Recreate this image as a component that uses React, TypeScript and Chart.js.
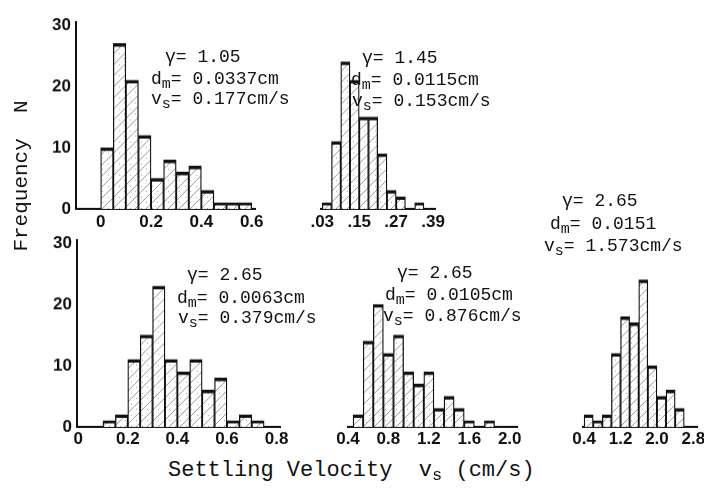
import React, { useEffect, useRef } from "react";
import { Chart, registerables } from "chart.js";
Chart.register(...registerables);

// ---------- data ----------
// Panel 1 (γ = 1.05): bins of 0.05 cm/s, centres
const p1Bins = [0.025, 0.075, 0.125, 0.175, 0.225, 0.275, 0.325, 0.375, 0.425, 0.475, 0.525, 0.575];
const p1Counts = [10, 27, 21, 12, 5, 8, 6, 7, 3, 1, 1, 1];
const p1Ticks = [0, 0.2, 0.4, 0.6];
const p1TickLabels = ["0", "0.2", "0.4", "0.6"];
const p1Notes = ["1.05", "0.0337cm", "0.177cm/s"];

// Panel 2 (γ = 1.45): bins of 0.03 cm/s
const p2Bins = [0.045, 0.075, 0.105, 0.135, 0.165, 0.195, 0.225, 0.255, 0.285, 0.315, 0.345];
const p2Counts = [1, 11, 24, 21, 15, 15, 9, 3, 2, 0, 1];
const p2Ticks = [0.03, 0.15, 0.27, 0.39];
const p2TickLabels = [".03", ".15", ".27", ".39"];
const p2Notes = ["1.45", "0.0115cm", "0.153cm/s"];

// Panel 3 (γ = 2.65, dm 0.0063): bins of 0.05 cm/s
const p3Bins = [0.125, 0.175, 0.225, 0.275, 0.325, 0.375, 0.425, 0.475, 0.525, 0.575, 0.625, 0.675, 0.725];
const p3Counts = [1, 2, 11, 15, 23, 11, 9, 11, 6, 8, 1, 2, 1];
const p3Ticks = [0, 0.2, 0.4, 0.6, 0.8];
const p3TickLabels = ["0", "0.2", "0.4", "0.6", "0.8"];
const p3Notes = ["2.65", "0.0063cm", "0.379cm/s"];

// Panel 4 (γ = 2.65, dm 0.0105): bins of 0.1 cm/s
const p4Bins = [0.5, 0.6, 0.7, 0.8, 0.9, 1.0, 1.1, 1.2, 1.3, 1.4, 1.5, 1.6, 1.7, 1.8];
const p4Counts = [2, 14, 20, 12, 15, 9, 7, 9, 3, 5, 3, 1, 0, 1];
const p4Ticks = [0.4, 0.8, 1.2, 1.6, 2.0];
const p4TickLabels = ["0.4", "0.8", "1.2", "1.6", "2.0"];
const p4Notes = ["2.65", "0.0105cm", "0.876cm/s"];

// Panel 5 (γ = 2.65, dm 0.0151): bins of 0.2 cm/s
const p5Bins = [0.5, 0.7, 0.9, 1.1, 1.3, 1.5, 1.7, 1.9, 2.1, 2.3, 2.5];
const p5Counts = [2, 1, 2, 12, 18, 17, 24, 10, 5, 6, 3];
const p5Ticks = [0.4, 1.2, 2.0, 2.8];
const p5TickLabels = ["0.4", "1.2", "2.0", "2.8"];
const p5Notes = ["2.65", "0.0151", "1.573cm/s"];

const yTicks = [0, 10, 20, 30];
const yTickLabels = ["0", "10", "20", "30"];

// ---------- layout ----------
type Spec = {
  left: number; right: number; top: number; bottom: number;
  xMin: number; xMax: number; showY: boolean;
  bins: number[]; counts: number[]; ticks: number[]; labels: string[];
  tickPad: number;
};

const Y_MAX = 30.5;
const topRow = { top: 209 - Y_MAX * 6.12, bottom: 209 };
const botRow = { top: 427 - Y_MAX * 6.12, bottom: 427 };

const specs: Spec[] = [
  { left: 76, right: 255, ...topRow, xMin: -0.098, xMax: 0.613, showY: true,
    bins: p1Bins, counts: p1Counts, ticks: p1Ticks, labels: p1TickLabels, tickPad: 3 },
  { left: 281, right: 435, ...topRow, xMin: 0.0259, xMax: 0.396, showY: false,
    bins: p2Bins, counts: p2Counts, ticks: p2Ticks, labels: p2TickLabels, tickPad: 3 },
  { left: 77, right: 280, ...botRow, xMin: -0.0048, xMax: 0.814, showY: true,
    bins: p3Bins, counts: p3Counts, ticks: p3Ticks, labels: p3TickLabels, tickPad: 2 },
  { left: 308, right: 517, ...botRow, xMin: 0.4, xMax: 2.072, showY: false,
    bins: p4Bins, counts: p4Counts, ticks: p4Ticks, labels: p4TickLabels, tickPad: 2 },
  { left: 543, right: 697, ...botRow, xMin: 0.3756, xMax: 2.88, showY: false,
    bins: p5Bins, counts: p5Counts, ticks: p5Ticks, labels: p5TickLabels, tickPad: 2 },
];

const PAD_L = 18, PAD_R = 18, PAD_T = 16, X_H = 28, Y_W = 40;
const TICK_FONT = { family: '"Liberation Sans", Arial, sans-serif', size: 17, weight: "bold" as const };
const MONO = '"Liberation Mono", "Courier New", monospace';
const INK = "#111";

function makeHatch(): CanvasPattern | string {
  const s = 11;
  const c = document.createElement("canvas");
  c.width = s; c.height = s;
  const g = c.getContext("2d");
  if (!g) return "#fff";
  g.fillStyle = "#fff";
  g.fillRect(0, 0, s, s);
  g.strokeStyle = "rgba(0,0,0,0.4)";
  g.lineWidth = 1;
  g.beginPath();
  g.moveTo(0, s); g.lineTo(s, 0);
  g.moveTo(-1, 1); g.lineTo(1, -1);
  g.moveTo(s - 1, s + 1); g.lineTo(s + 1, s - 1);
  g.stroke();
  g.fillStyle = "rgba(0,0,0,0.35)";
  g.fillRect(2, 3, 1, 1);
  g.fillRect(7, 8, 1, 1);
  return g.createPattern(c, "repeat") || "#fff";
}

function Panel({ spec }: { spec: Spec }) {
  const ref = useRef<HTMLCanvasElement>(null);
  const yw = spec.showY ? Y_W : 0;
  const w = spec.right - spec.left + PAD_L + PAD_R + yw;
  const h = spec.bottom - spec.top + PAD_T + X_H;
  useEffect(() => {
    if (!ref.current) return;
    const hatch = makeHatch();
    const chart = new Chart(ref.current, {
      type: "bar",
      data: {
        datasets: [
          {
            data: spec.bins.map((b, i) => ({ x: b, y: spec.counts[i] > 0 ? spec.counts[i] : null })) as any,
            backgroundColor: hatch as any,
            borderColor: INK,
            borderWidth: { top: 3.5, left: 1.3, right: 1.3, bottom: 0 },
            borderSkipped: false,
            categoryPercentage: 1,
            barPercentage: 1,
          },
        ],
      },
      options: {
        animation: false,
        responsive: false,
        maintainAspectRatio: false,
        layout: { padding: { left: PAD_L, right: PAD_R, top: PAD_T, bottom: 0 } },
        plugins: { legend: { display: false }, tooltip: { enabled: false } },
        scales: {
          x: {
            type: "linear",
            min: spec.xMin,
            max: spec.xMax,
            offset: false,
            grid: { display: false, drawTicks: false },
            border: { display: true, color: INK, width: 2 },
            ticks: {
              autoSkip: false,
              maxRotation: 0,
              padding: spec.tickPad,
              color: INK,
              font: TICK_FONT,
              callback: (_v: any, i: number) => spec.labels[i],
            },
            afterBuildTicks: (axis: any) => {
              axis.ticks = spec.ticks.map((v) => ({ value: v }));
            },
            afterFit: (s: any) => {
              s.height = X_H;
            },
          },
          y: {
            display: spec.showY,
            min: 0,
            max: Y_MAX,
            grid: { display: false, drawTicks: false },
            border: { display: true, color: INK, width: 2 },
            ticks: {
              padding: 5,
              color: INK,
              font: TICK_FONT,
              callback: (_v: any, i: number) => yTickLabels[i],
            },
            afterBuildTicks: (axis: any) => {
              axis.ticks = yTicks.map((v) => ({ value: v }));
            },
            afterFit: (s: any) => {
              s.width = Y_W;
            },
          },
        },
      },
    });
    return () => chart.destroy();
  }, [spec]);
  return (
    <canvas
      ref={ref}
      width={w}
      height={h}
      style={{ position: "absolute", left: spec.left - PAD_L - yw, top: spec.top - PAD_T, width: w, height: h }}
    />
  );
}

const SUB: React.CSSProperties = { fontSize: 15, position: "relative", top: 4 };

function Line({ x, y, sym, sub, text }: { x: number; y: number; sym: string; sub?: string; text: string }) {
  return (
    <div
      style={{
        position: "absolute", left: x, top: y - 11, height: 22, lineHeight: "22px",
        fontFamily: MONO, fontSize: 18, color: INK, whiteSpace: "pre",
      }}
    >
      {sym}
      {sub ? <span style={SUB}>{sub}</span> : null}
      {text}
    </div>
  );
}

function Notes({ notes, pos }: { notes: string[]; pos: number[][] }) {
  return (
    <>
      <Line x={pos[0][0]} y={pos[0][1]} sym="γ" text={"= " + notes[0]} />
      <Line x={pos[1][0]} y={pos[1][1]} sym="d" sub="m" text={"= " + notes[1]} />
      <Line x={pos[2][0]} y={pos[2][1]} sym="v" sub="s" text={"= " + notes[2]} />
    </>
  );
}

export default function App() {
  return (
    <div style={{ position: "absolute", left: 0, top: 0, width: 704, height: 490, background: "#fff", overflow: "hidden" }}>
      {specs.map((s, i) => (
        <Panel key={i} spec={s} />
      ))}
      <Notes notes={p1Notes} pos={[[165, 57], [151, 79], [151, 99]]} />
      <Notes notes={p2Notes} pos={[[362, 58], [351, 80], [352, 101]]} />
      <Notes notes={p3Notes} pos={[[187, 275], [177, 298], [178, 318]]} />
      <Notes notes={p4Notes} pos={[[397, 273], [385, 295], [383, 316]]} />
      <Notes notes={p5Notes} pos={[[562, 201], [550, 224], [544, 246]]} />
      <div
        style={{
          position: "absolute", left: 168, top: 459, height: 24, lineHeight: "24px",
          fontFamily: MONO, fontSize: 22, color: INK, whiteSpace: "pre",
        }}
      >
        {"Settling Velocity  v"}
        <span style={{ fontSize: 17, position: "relative", top: 4 }}>s</span>
        {" (cm/s)"}
      </div>
      <div
        style={{
          position: "absolute", left: 22 - 100, top: 176 - 12, width: 200, height: 24, lineHeight: "24px",
          textAlign: "center", fontFamily: MONO, fontSize: 21, color: INK, whiteSpace: "pre",
          transform: "rotate(-90deg)",
        }}
      >
        Frequency  N
      </div>
    </div>
  );
}
